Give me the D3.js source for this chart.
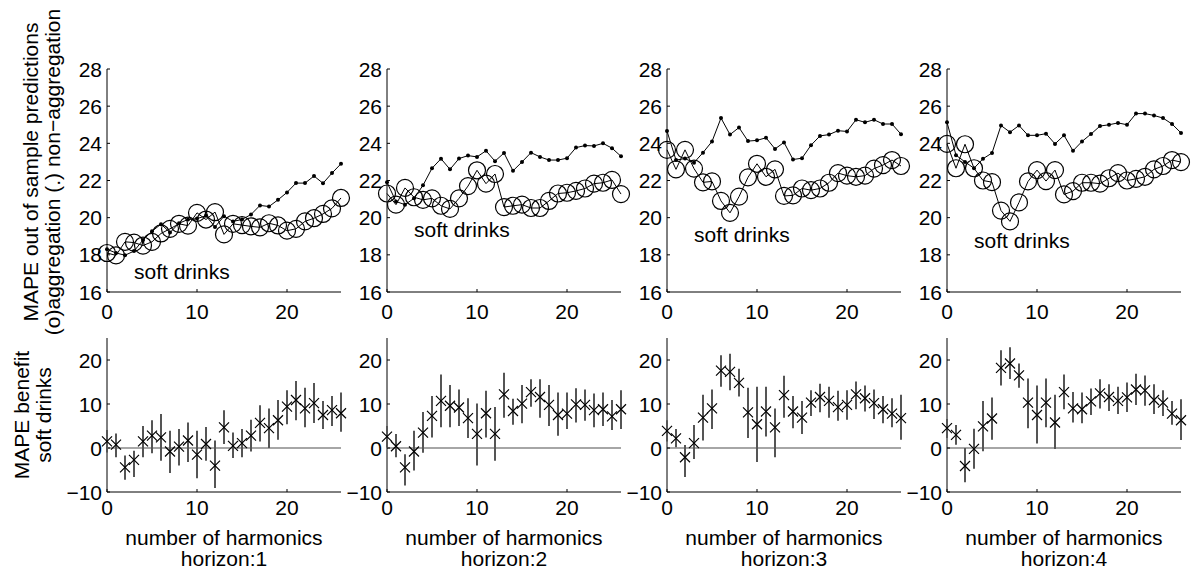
<!DOCTYPE html>
<html><head><meta charset="utf-8">
<script src="https://cdn.jsdelivr.net/npm/d3@7"></script>
<style>
html,body{margin:0;padding:0;background:#fff;}
svg text{font-family:"Liberation Sans",Arial,Helvetica,sans-serif;fill:#000;}
</style></head>
<body>
<svg id="chart" width="1192" height="573"></svg>
<script>
// ---------- data ----------
const harmonics = d3.range(0, 27);
const horizons = ["horizon:1", "horizon:2", "horizon:3", "horizon:4"];
const topTicks = [16, 18, 20, 22, 24, 26, 28];
const bottomTicks = [-10, 0, 10, 20];
const xTicks = [0, 10, 20];

// aggregation (o)
const aggH1 = [18.1,17.97,18.7,18.66,18.5,18.7,19.15,19.4,19.67,19.57,20.26,19.9,20.3,19.1,19.67,19.6,19.53,19.48,19.7,19.58,19.3,19.4,19.8,19.97,20.2,20.5,21.06];
const aggH2 = [21.3,20.7,21.6,21.1,20.96,21.04,20.64,20.47,21.04,21.7,22.55,21.83,22.35,20.57,20.64,20.7,20.52,20.52,20.9,21.3,21.34,21.44,21.57,21.83,21.88,22.03,21.27];
const aggH3 = [23.65,22.6,23.65,22.64,21.9,21.95,20.9,20.26,21.13,22.17,22.9,22.2,22.6,21.17,21.2,21.57,21.48,21.57,21.88,22.4,22.26,22.2,22.26,22.64,22.83,23.1,22.78];
const aggH4 = [23.97,22.66,23.95,22.66,22.0,21.91,20.38,19.8,20.82,21.95,22.56,21.97,22.56,21.25,21.43,21.88,21.88,21.83,22.12,22.4,22.0,22.09,22.2,22.6,22.78,23.1,22.99];

// non-aggregation (.)
const nonH1 = [18.3,18.1,17.98,18.2,18.8,19.27,19.65,19.2,19.7,19.9,19.95,20.1,19.5,20.08,19.8,19.9,20.17,20.66,20.6,20.96,21.36,21.86,21.86,22.24,21.85,22.4,22.9];
const nonH2 = [21.9,20.87,20.7,21.04,21.74,22.66,23.17,22.6,23.18,23.34,23.27,23.6,23.04,23.48,22.52,23.0,23.5,23.27,23.1,23.1,23.2,23.77,23.88,23.86,24.0,23.74,23.3];
const nonH3 = [24.66,23.1,23.18,22.96,23.5,24.1,25.36,24.47,24.85,24.12,24.16,24.3,23.7,24.05,23.13,23.2,23.9,24.4,24.47,24.68,24.64,25.27,25.13,25.27,25.04,25.04,24.49];
const nonH4 = [25.13,23.36,23.0,22.66,23.17,23.48,24.96,24.6,24.96,24.43,24.43,24.52,23.97,24.43,23.6,24.1,24.5,24.93,25.0,25.1,25.0,25.6,25.6,25.5,25.36,25.04,24.56];

// MAPE benefit: mean, lower, upper
const benH1 = [1.5,0.75,-4.4,-2.7,1.5,2.8,2.4,-0.8,0.3,1.7,-1.5,0.9,-4,4.7,0.5,1.1,2.8,5.7,4.5,6.3,9.4,10.9,9,10.2,7.5,8.6,7.9];
const loH1  = [-1,-2.1,-7.2,-6.6,-2.1,-1.2,-2.9,-5.7,-4,-3.2,-6.9,-2.9,-9.1,0.9,-2.3,-2.1,-0.8,1.5,0,1.9,5.4,6.3,4.7,5.7,4.3,5,3.7];
const hiH1  = [4.1,3.3,-1.7,-0.6,5,6.3,7.7,3.9,4.3,5.8,3.9,4.8,1.7,8.6,3.5,4.3,6.4,9.7,9,10.9,13.1,15.2,13.7,14.8,10.7,11.8,12.6];

const benH2 = [2.6,0.4,-4.4,-0.8,3.5,7.3,10.7,9.6,9.2,6.8,3.2,7.9,3.2,12.2,8.4,10.1,12.7,11.6,9.8,7.5,7.8,9.9,9.8,8.6,8.8,7.2,8.8];
const loH2  = [0.1,-2.1,-8.5,-5.1,-1.1,2.4,4.7,4.7,5,2.3,-4,2.4,-2.9,6.9,5.3,5.6,9.4,6.9,5,2.8,4.3,5.8,6.2,4.7,5,4.1,4.3];
const hiH2  = [5,3.2,-1.4,3.9,8.2,11.8,16.7,14.3,13.3,11.3,10.1,13,9.3,17.1,11.2,14.3,15.6,15.6,14.3,12.6,12.6,13.6,13.3,12.4,12.6,10.9,13.1];

const benH3 = [3.9,2.2,-2.1,1.1,6.9,9,17.6,17.3,14.8,8.1,5.4,8.3,4.7,12,8.3,6.9,10.3,11.6,10.7,9.3,9.8,12.2,11.3,10.2,8.8,7.8,6.8];
const loH3  = [1.5,0.15,-6.6,-2.5,1.7,4.3,13.9,13.1,11.7,2.3,-3.2,2.6,-2.1,6.9,4.5,3.2,7.3,8.1,6.9,6.2,6.4,8.8,8.3,6.6,5.6,4.7,1.9];
const hiH3  = [6.3,4.3,0.7,5.2,12.1,13.3,21.1,21.4,18,13.7,13.9,13.9,9,16.4,11.8,10.7,13.1,14.6,13.9,13,13.1,15.1,14.2,13.3,11.8,11.3,12.1];

const benH4 = [4.5,3.0,-4.1,-0.2,4.9,6.7,18.2,19.2,16.5,10.3,7.5,10.3,5.8,12.7,9,8.8,10.6,12.4,11.6,10.7,11.5,13.3,13.1,10.9,10.3,7.8,6.3];
const loH4  = [2.3,0.75,-7.8,-4.7,-0.75,1.9,14.2,15.7,13.7,4.5,1.05,4.7,-0.2,8.8,5.8,5.6,7.5,9,8.4,7.7,8.2,9.8,9.6,7.7,7.3,5.3,1.8];
const hiH4  = [6.6,5.2,0,4.4,10.7,11.5,22.2,22.9,19.2,15.8,14.2,15.8,12.1,16.7,12.7,12.6,13.5,15.6,14.5,13.9,14.9,16.9,16.5,14.5,13.1,10.7,11.1];

const panelLabel = "soft drinks";
const labelPosX = [3, 3, 3, 3];
const labelPosY = [17.1, 19.34, 19.08, 18.76];

const aggAll = [aggH1, aggH2, aggH3, aggH4];
const nonAll = [nonH1, nonH2, nonH3, nonH4];
const benAll = [benH1, benH2, benH3, benH4];
const loAll = [loH1, loH2, loH3, loH4];
const hiAll = [hiH1, hiH2, hiH3, hiH4];

// ---------- layout ----------
const svg = d3.select("#chart");
const panelLeft = [107, 387, 667, 947];
const panelW = 234;
const topY = [292, 69];
const botY = [492, 338];
const FS = 21;

function drawAxes(g, x, y, yTicks, xLabelOffset) {
  g.append("line").attr("x1", x(0)).attr("x2", x(0))
    .attr("y1", y.range()[0]).attr("y2", y.range()[1])
    .attr("stroke", "#000").attr("stroke-width", 1);
  g.append("line").attr("x1", x(0)).attr("x2", x(26))
    .attr("y1", y.range()[0]).attr("y2", y.range()[0])
    .attr("stroke", "#000").attr("stroke-width", 1);
  yTicks.forEach(t => {
    g.append("line").attr("x1", x(0)).attr("x2", x(0) + 3)
      .attr("y1", y(t)).attr("y2", y(t)).attr("stroke", "#000");
    g.append("text").attr("x", x(0) - 5).attr("y", y(t))
      .attr("text-anchor", "end").attr("dominant-baseline", "central")
      .attr("font-size", FS).text(String(t).replace("-", "\u2212"));
  });
  xTicks.forEach(t => {
    g.append("line").attr("x1", x(t)).attr("x2", x(t))
      .attr("y1", y.range()[0]).attr("y2", y.range()[0] - 3).attr("stroke", "#000");
    g.append("text").attr("x", x(t)).attr("y", y.range()[0] + xLabelOffset)
      .attr("text-anchor", "middle").attr("dominant-baseline", "central")
      .attr("font-size", FS).text(t);
  });
}

for (let p = 0; p < 4; p++) {
  const x = d3.scaleLinear().domain([0, 26]).range([panelLeft[p], panelLeft[p] + panelW]);
  const yT = d3.scaleLinear().domain([16, 28]).range(topY);
  const yB = d3.scaleLinear().domain([-10, 25]).range(botY);

  // ----- top panel -----
  const gt = svg.append("g");
  drawAxes(gt, x, yT, topTicks, 19);
  const line = d3.line().x((d, i) => x(harmonics[i])).y(d => yT(d));
  gt.append("path").attr("d", line(nonAll[p])).attr("fill", "none")
    .attr("stroke", "#000").attr("stroke-width", 1);
  gt.selectAll(null).data(nonAll[p]).enter().append("circle")
    .attr("cx", (d, i) => x(harmonics[i])).attr("cy", d => yT(d))
    .attr("r", 2).attr("fill", "#000");
  gt.append("path").attr("d", line(aggAll[p])).attr("fill", "none")
    .attr("stroke", "#000").attr("stroke-width", 1);
  gt.selectAll(null).data(aggAll[p]).enter().append("circle")
    .attr("cx", (d, i) => x(harmonics[i])).attr("cy", d => yT(d))
    .attr("r", 8.5).attr("fill", "none").attr("stroke", "#000").attr("stroke-width", 1.2);
  gt.append("text").attr("x", x(labelPosX[p])).attr("y", yT(labelPosY[p]))
    .attr("dominant-baseline", "central").attr("font-size", FS).text(panelLabel);

  // ----- bottom panel -----
  const gb = svg.append("g");
  drawAxes(gb, x, yB, bottomTicks, 15);
  gb.append("line").attr("x1", x(0)).attr("x2", x(26))
    .attr("y1", yB(0)).attr("y2", yB(0)).attr("stroke", "#000").attr("stroke-width", 0.7);
  gb.selectAll(null).data(harmonics).enter().append("line")
    .attr("x1", d => x(d)).attr("x2", d => x(d))
    .attr("y1", (d, i) => yB(loAll[p][i])).attr("y2", (d, i) => yB(hiAll[p][i]))
    .attr("stroke", "#555").attr("stroke-width", 2);
  const s = 5;
  gb.selectAll(null).data(harmonics).enter().append("path")
    .attr("d", (d, i) => {
      const cx = x(d), cy = yB(benAll[p][i]);
      return `M${cx - s},${cy - s}L${cx + s},${cy + s}M${cx - s},${cy + s}L${cx + s},${cy - s}`;
    })
    .attr("stroke", "#000").attr("stroke-width", 1.2).attr("fill", "none");

  const cx = panelLeft[p] + panelW / 2;
  gb.append("text").attr("x", cx).attr("y", 537).attr("text-anchor", "middle")
    .attr("dominant-baseline", "central").attr("font-size", FS).text("number of harmonics");
  gb.append("text").attr("x", cx).attr("y", 558).attr("text-anchor", "middle")
    .attr("dominant-baseline", "central").attr("font-size", FS).text(horizons[p]);
}

function vText(x, y, t) {
  svg.append("text").attr("transform", `translate(${x},${y}) rotate(-90)`)
    .attr("text-anchor", "middle").attr("dominant-baseline", "central")
    .attr("font-size", FS).text(t);
}
vText(30, 172, "MAPE out of sample predictions");
vText(52, 172, "(o)aggregation  (.) non\u2212aggregation");
vText(21, 415, "MAPE benefit");
vText(43, 415, "soft drinks");
</script>
</body></html>
